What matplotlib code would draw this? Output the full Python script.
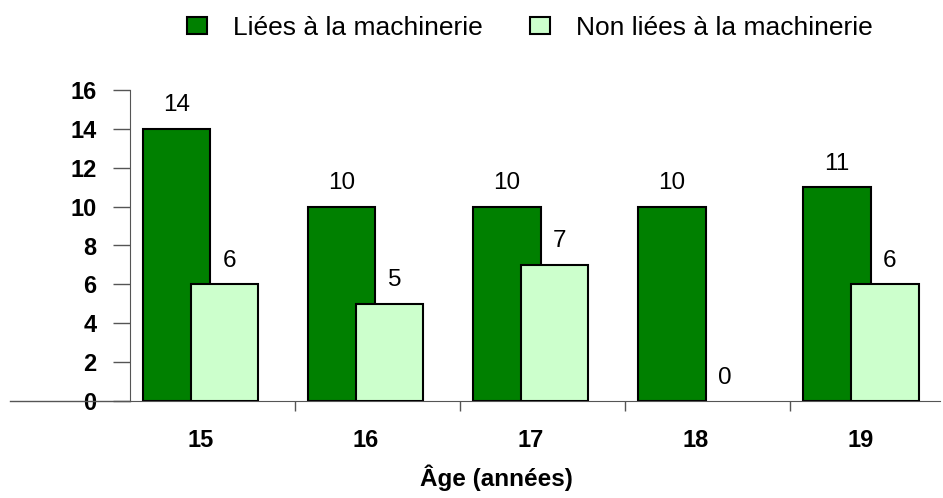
import numpy as np
import matplotlib.pyplot as plt
from matplotlib.lines import Line2D
from matplotlib.patches import Patch

plt.rcParams['font.family'] = ['Liberation Sans', 'DejaVu Sans']

# Data
ages = ['15', '16', '17', '18', '19']
liees = [14, 10, 10, 10, 11]
non_liees = [6, 5, 7, 0, 6]

dark = '#008000'
light = '#CCFFCC'

W, H = 943, 498
fig = plt.figure(figsize=(W / 100, H / 100), dpi=100)
ax = fig.add_axes([130 / W, 1 - 401 / H, (940 - 130) / W, (401 - 90) / H])

x = np.arange(len(ages))
width = 0.41
off = 0.145
ax.bar(x - off, liees, width, color=dark, edgecolor='black', linewidth=1.5, zorder=2)
bars = ax.bar(x + off, non_liees, width, color=light, edgecolor='black', linewidth=1.5, zorder=3)
# an empty bar leaves no outline on the baseline
for b, v in zip(bars, non_liees):
    if v == 0:
        b.set_linewidth(0)

for xi, v in zip(x - off, liees):
    ax.annotate(str(v), (xi, v), xytext=(0, 9), textcoords='offset points',
                ha='center', va='bottom', fontsize=17.5)
for xi, v in zip(x + off, non_liees):
    ax.annotate(str(v), (xi + 0.03, v), xytext=(0, 9), textcoords='offset points',
                ha='center', va='bottom', fontsize=17.5)

ax.set_yticks(range(0, 17, 2))
ax.tick_params(axis='y', length=12, width=1, color='#555555', pad=12, labelsize=17)
for lbl in ax.get_yticklabels():
    lbl.set_fontweight('bold')

# category boundary ticks (major) and labels (minor)
ax.set_xticks(x - 0.427 + 1, minor=False)
ax.set_xticklabels([])
ax.set_xticks(x, minor=True)
ax.set_xticklabels(ages, minor=True, fontsize=17, fontweight='bold')
ax.tick_params(axis='x', which='major', length=7, width=1, color='#555555')
ax.tick_params(axis='x', which='minor', length=0, pad=20)

ax.set_xlim(-0.427, 4.48)
ax.set_ylim(0, 16)

for s in ['top', 'right']:
    ax.spines[s].set_visible(False)
ax.spines['left'].set_color('#555555')
ax.spines['bottom'].set_color('#555555')

# baseline extends to the left of the y axis
fig.add_artist(Line2D([10 / W, 130 / W], [1 - 401 / H, 1 - 401 / H],
                      color='#555555', linewidth=1))

fig.text(496 / W, 1 - 478 / H, 'Âge (années)', ha='center', va='center',
         fontsize=17.5, fontweight='bold')

handles = [Patch(facecolor=dark, edgecolor='black', linewidth=1.5),
           Patch(facecolor=light, edgecolor='black', linewidth=1.5)]
fig.legend(handles, ['Liées à la machinerie', 'Non liées à la machinerie'],
           loc='center', bbox_to_anchor=(530 / W, 1 - 28 / H), ncol=2,
           frameon=False, fontsize=19, handlelength=0.75, handleheight=0.6,
           handletextpad=1.0, columnspacing=1.8, borderpad=0)

fig.savefig('out.png', dpi=100)
